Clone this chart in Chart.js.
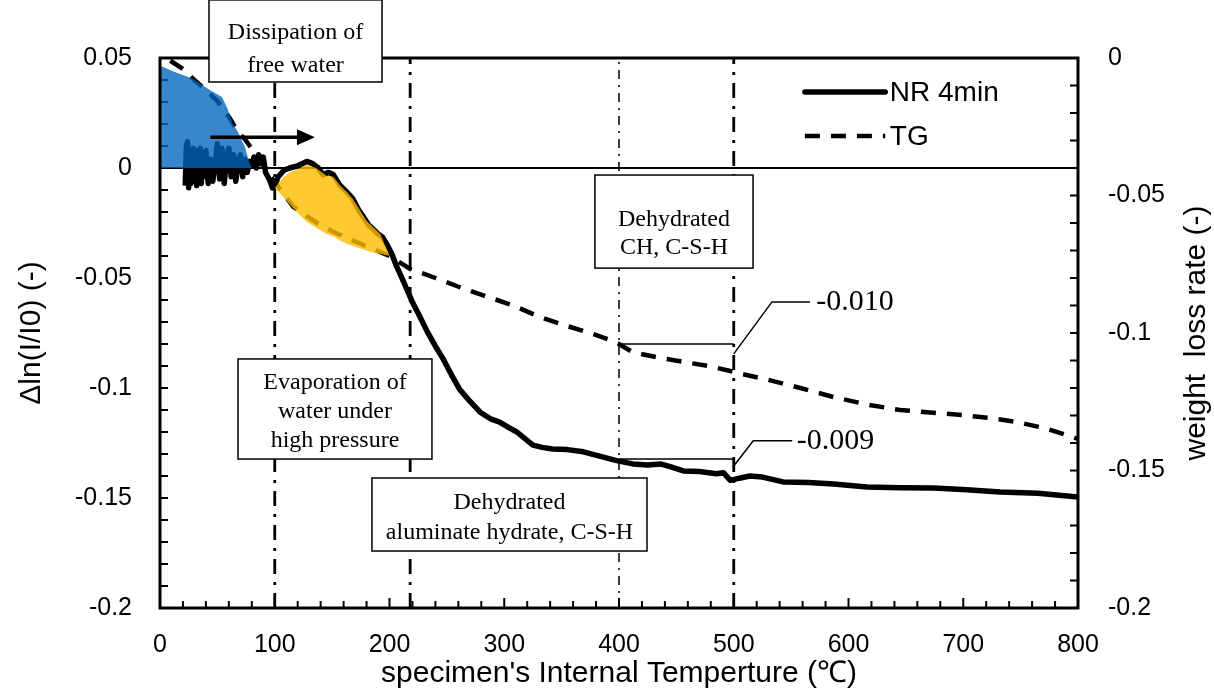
<!DOCTYPE html>
<html>
<head>
<meta charset="utf-8">
<script src="https://cdn.jsdelivr.net/npm/chart.js@4.4.1/dist/chart.umd.min.js"></script>
<style>
  body { margin: 0; background: #fff; }
</style>
</head>
<body>
<canvas id="chart" width="1214" height="695"></canvas>
<script>
// NR 4min : delta ln(I/I0), left axis
var nrTemp = [22, 23, 24, 25, 26, 27, 28, 29, 30, 31, 32, 33, 34, 35, 36, 37, 38, 40, 42, 44, 46, 48, 50, 52, 54, 56, 58, 60, 62, 64, 66, 68, 70, 72, 74, 76, 78, 80, 82, 84, 86, 88, 90, 92, 94, 96, 98, 100, 103, 108, 113, 120, 128, 133, 138, 142, 147, 151, 157, 163, 168, 173, 177, 182, 186, 190, 194, 198, 202, 206, 210, 215, 220, 225, 233, 240, 247, 254, 261, 270, 279, 288, 296, 304, 311, 318, 325, 333, 342, 355, 369, 383, 398, 412, 425, 436, 446, 456, 470, 485, 491, 497, 505, 514, 525, 543, 565, 587, 616, 645, 674, 703, 732, 765, 800];
var nrValue = [-0.008, 0.010, 0.012, -0.009, 0.004, -0.007, 0.006, 0.009, -0.006, 0.008, -0.008, 0.003, -0.005, 0.009, -0.007, 0.007, -0.004, 0.008, -0.007, 0.004, -0.006, 0.002, 0.011, -0.005, 0.009, -0.007, 0.005, 0.009, -0.004, 0.006, -0.006, 0.003, 0.006, -0.004, 0.004, -0.002, 0.003, 0.001, 0.005, 0.000, 0.006, 0.002, 0.005, -0.002, -0.004, -0.006, -0.009, -0.008, -0.004, -0.001, 0.000, 0.001, 0.003, 0.002, 0.000, -0.003, -0.002, -0.003, -0.008, -0.011, -0.014, -0.019, -0.022, -0.026, -0.028, -0.030, -0.0315, -0.035, -0.039, -0.0445, -0.049, -0.055, -0.061, -0.066, -0.0745, -0.081, -0.087, -0.094, -0.1005, -0.106, -0.111, -0.114, -0.1155, -0.118, -0.120, -0.123, -0.126, -0.127, -0.1277, -0.128, -0.129, -0.131, -0.133, -0.1345, -0.135, -0.1345, -0.136, -0.1377, -0.138, -0.139, -0.1385, -0.142, -0.141, -0.140, -0.1405, -0.1427, -0.143, -0.1436, -0.145, -0.1453, -0.1455, -0.1462, -0.1473, -0.1478, -0.1495];

// TG : weight loss rate, right axis
var tgTemp = [9, 20, 30, 39, 50, 61, 68, 74, 80, 87, 98, 107, 116, 126, 137, 150, 166, 183, 200, 218, 240, 259, 283, 308, 330, 355, 375, 395, 400, 412, 435, 456, 478, 497, 508, 530, 558, 587, 616, 645, 674, 703, 725, 747, 770, 793, 800];
var tgValue = [-0.001, -0.004, -0.008, -0.0113, -0.0156, -0.022, -0.027, -0.0295, -0.033, -0.037, -0.044, -0.049, -0.054, -0.057, -0.060, -0.063, -0.066, -0.069, -0.072, -0.0767, -0.080, -0.083, -0.0865, -0.090, -0.094, -0.0975, -0.100, -0.103, -0.104, -0.107, -0.109, -0.1105, -0.112, -0.1138, -0.115, -0.117, -0.120, -0.1233, -0.126, -0.128, -0.129, -0.130, -0.131, -0.1324, -0.1345, -0.1375, -0.1385];

// shaded regions (left axis units)
var blueTemp = [0, 2, 13, 29, 42, 54, 59, 63, 68, 74, 78, 80];
var blueValue = [0.046, 0.046, 0.0436, 0.0405, 0.0359, 0.0323, 0.0268, 0.0205, 0.0164, 0.0095, 0.0023, 0];
var yellowTemp = [100, 108, 113, 120, 128, 136, 145, 151, 157, 163, 168, 174, 180, 186, 192, 200];
var yellowTop = [-0.009, -0.004, -0.002, -0.0005, 0.0015, 0.000, -0.0035, -0.004, -0.008, -0.011, -0.014, -0.019, -0.024, -0.027, -0.030, -0.040];
var yellowBottom = [-0.009, -0.0135, -0.0165, -0.0205, -0.0245, -0.027, -0.030, -0.031, -0.033, -0.0345, -0.0355, -0.0365, -0.0375, -0.0385, -0.039, -0.040];

var markerTemps = [100, 218, 400, 500];

var xTicks = [0, 100, 200, 300, 400, 500, 600, 700, 800];
var xTickLabels = ['0', '100', '200', '300', '400', '500', '600', '700', '800'];
var leftTicks = [-0.2, -0.15, -0.1, -0.05, 0, 0.05];
var leftTickLabels = ['-0.2', '-0.15', '-0.1', '-0.05', '0', '0.05'];
var rightTicks = [-0.2, -0.15, -0.1, -0.05, 0];
var rightTickLabels = ['-0.2', '-0.15', '-0.1', '-0.05', '0'];

var SANS = '"Liberation Sans", Arial, sans-serif';
var SERIF = '"Liberation Serif", "Times New Roman", serif';

function pts(xs, ys) {
    return xs.map(function (x, i) { return { x: x, y: ys[i] }; });
}

var datasets = [
    { label: 'NR 4min', data: pts(nrTemp, nrValue), yAxisID: 'y', borderColor: '#000', borderWidth: 5.5,
      borderJoinStyle: 'round', pointRadius: 0, fill: false, order: 2 },
    { label: 'TG', data: pts(tgTemp, tgValue), yAxisID: 'y2', borderColor: '#000', borderWidth: 4.5,
      borderDash: [15, 11], pointRadius: 0, fill: false, order: 2 },
    { label: 'blue', data: pts(blueTemp, blueValue), yAxisID: 'y', borderWidth: 0, borderColor: 'rgba(0,0,0,0)',
      backgroundColor: 'rgba(0,100,190,0.78)', pointRadius: 0, fill: 'origin', order: 0 },
    { label: 'yellow', data: pts(yellowTemp, yellowTop), yAxisID: 'y', borderWidth: 0, borderColor: 'rgba(0,0,0,0)',
      backgroundColor: 'rgba(255,188,0,0.8)', pointRadius: 0, fill: '+1', order: 0 },
    { label: 'yellowBase', data: pts(yellowTemp, yellowBottom), yAxisID: 'y', borderWidth: 0, borderColor: 'rgba(0,0,0,0)',
      pointRadius: 0, fill: false, order: 1 }
];
markerTemps.forEach(function (t) {
    var thin = t === 400;
    datasets.push({ label: 'marker', data: [{ x: t, y: -0.2 }, { x: t, y: 0.05 }], yAxisID: 'y',
        borderColor: '#000', borderWidth: thin ? 1.5 : 2.8, borderDash: thin ? [9, 6, 2, 6] : [15, 8, 3, 8],
        pointRadius: 0, fill: false, order: 3 });
});

var notes = [
    { lines: ['Dissipation of', 'free water'], t0: 42.7, t1: 193.5, v0: 0.0764, v1: 0.0391, gap: 33, shift: 8 },
    { lines: ['Evaporation of', 'water under', 'high pressure'], t0: 68, t1: 237, v0: -0.0868, v1: -0.1323, gap: 29, shift: 3 },
    { lines: ['Dehydrated', 'aluminate hydrate, C-S-H'], t0: 184.7, t1: 424.4, v0: -0.1409, v1: -0.1741, gap: 30, shift: 3 },
    { lines: ['Dehydrated', 'CH, C-S-H'], t0: 379, t1: 516.8, v0: -0.0032, v1: -0.0455, gap: 28, shift: 12 }
];

function line(ctx, pts, w) {
    ctx.beginPath();
    ctx.moveTo(pts[0][0], pts[0][1]);
    for (var i = 1; i < pts.length; i++) ctx.lineTo(pts[i][0], pts[i][1]);
    ctx.lineWidth = w;
    ctx.stroke();
}

var decor = {
    id: 'decor',
    beforeDatasetsDraw: function (chart) {
        var ctx = chart.ctx, ca = chart.chartArea;
        var xs = chart.scales.x, ys = chart.scales.y, y2 = chart.scales.y2;
        ctx.save();
        ctx.strokeStyle = '#000';
        for (var t = 20; t < 800; t += 20) {
            var x = xs.getPixelForValue(t);
            line(ctx, [[x, ca.bottom], [x, ca.bottom - (t % 100 === 0 ? 10 : 7)]], 2);
        }
        for (var i = -19; i < 5; i++) {
            var y = ys.getPixelForValue(i / 100);
            line(ctx, [[ca.left, y], [ca.left + 8, y]], 2);
        }
        for (var j = -19; j < 0; j++) {
            var yy = y2.getPixelForValue(j / 100);
            line(ctx, [[ca.right, yy], [ca.right - 8, yy]], 2);
        }
        ctx.restore();
    },
    afterDatasetsDraw: function (chart) {
        var ctx = chart.ctx, ca = chart.chartArea;
        var xs = chart.scales.x, ys = chart.scales.y, y2 = chart.scales.y2;
        var px = function (t) { return xs.getPixelForValue(t); };
        var py = function (v) { return ys.getPixelForValue(v); };
        var py2 = function (v) { return y2.getPixelForValue(v); };
        ctx.save();
        ctx.strokeStyle = '#000';
        ctx.fillStyle = '#000';

        // frame
        ctx.lineWidth = 3;
        ctx.strokeRect(ca.left, ca.top, ca.right - ca.left, ca.bottom - ca.top);

        // note boxes
        notes.forEach(function (n) {
            var x0 = px(n.t0), x1 = px(n.t1), y0 = py(n.v0), y1 = py(n.v1);
            ctx.fillStyle = '#fff';
            ctx.fillRect(x0, y0, x1 - x0, y1 - y0);
            ctx.lineWidth = 1.5;
            ctx.strokeRect(x0, y0, x1 - x0, y1 - y0);
            ctx.fillStyle = '#000';
            ctx.font = '24px ' + SERIF;
            ctx.textAlign = 'center';
            ctx.textBaseline = 'middle';
            var cy = (y0 + y1) / 2 + n.shift - (n.lines.length - 1) * n.gap / 2;
            n.lines.forEach(function (s, k) { ctx.fillText(s, (x0 + x1) / 2, cy + k * n.gap); });
        });

        // arrow
        var ay = py(0.014), ax0 = px(44), ax1 = px(135);
        line(ctx, [[ax0, ay], [ax1 - 14, ay]], 3.5);
        ctx.beginPath();
        ctx.moveTo(ax1, ay);
        ctx.lineTo(ax1 - 18, ay - 8);
        ctx.lineTo(ax1 - 18, ay + 8);
        ctx.closePath();
        ctx.fill();

        // leaders for the 400-500 differences
        line(ctx, [[px(400), py2(-0.104)], [px(500), py2(-0.104)]], 1.5);
        line(ctx, [[px(500), py2(-0.1076)], [px(533.3), py2(-0.0887)], [px(566.4), py2(-0.0887)]], 1.5);
        line(ctx, [[px(400), py(-0.1323)], [px(500), py(-0.1323)]], 1.5);
        line(ctx, [[px(499.3), py(-0.1359)], [px(517), py(-0.124)], [px(551), py(-0.124)]], 1.5);
        ctx.font = '30px ' + SERIF;
        ctx.textAlign = 'left';
        ctx.textBaseline = 'middle';
        ctx.fillText('-0.010', px(572), py2(-0.0887));
        ctx.fillText('-0.009', px(555), py(-0.124));

        // legend
        var legendRows = [chart.data.datasets[0], chart.data.datasets[1]];
        var rowV = [0.0345, 0.0145];
        ctx.font = '28px ' + SANS;
        legendRows.forEach(function (ds, k) {
            var y = py(rowV[k]);
            ctx.setLineDash(ds.borderDash || []);
            ctx.lineCap = ds.borderDash ? 'butt' : 'round';
            line(ctx, [[px(562), y], [px(632), y]], ds.borderWidth);
            ctx.setLineDash([]);
            ctx.fillText(ds.label, px(636), y + 1);
        });

        // right axis title, reading upward
        ctx.translate(chart.width - 17, (ca.top + ca.bottom) / 2);
        ctx.rotate(-Math.PI / 2);
        ctx.textAlign = 'center';
        ctx.font = '30px ' + SANS;
        ctx.fillText('weight  loss rate (-)', 0, 0);
        ctx.restore();
    }
};

function fixTicks(values) {
    return function (scale) {
        scale.ticks = values.map(function (v) { return { value: v }; });
    };
}

Chart.defaults.font.family = SANS;
Chart.defaults.color = '#000';

new Chart(document.getElementById('chart'), {
    type: 'line',
    data: { datasets: datasets },
    options: {
        responsive: false,
        animation: false,
        layout: { padding: { top: 58, left: 0, right: 0, bottom: 0 } },
        plugins: { legend: { display: false }, tooltip: { enabled: false } },
        scales: {
            x: {
                type: 'linear', position: 'bottom', min: 0, max: 800,
                afterBuildTicks: fixTicks(xTicks),
                afterFit: function (s) { s.height = 87; },
                grid: { display: false },
                border: { display: false },
                ticks: { font: { size: 25 }, padding: 14, maxRotation: 0,
                    callback: function (v) { return xTickLabels[xTicks.indexOf(v)]; } },
                title: { display: true, text: "specimen's Internal Temperture (\u2103)", font: { size: 30 },
                    padding: { top: 0, bottom: 3 } }
            },
            y: {
                type: 'linear', position: 'left', min: -0.2, max: 0.05,
                afterBuildTicks: fixTicks(leftTicks),
                afterFit: function (s) { s.width = 160; },
                grid: { drawTicks: false, lineWidth: 2,
                    color: function (c) { return c.tick && c.tick.value === 0 ? '#000' : 'rgba(0,0,0,0)'; } },
                border: { display: false },
                ticks: { font: { size: 25 }, padding: 28,
                    callback: function (v) { return leftTickLabels[leftTicks.indexOf(v)]; } },
                title: { display: true, text: '\u0394ln(I/I0) (-)', font: { size: 30 }, padding: { top: 14, bottom: 0 } }
            },
            y2: {
                type: 'linear', position: 'right', min: -0.2, max: 0,
                afterBuildTicks: fixTicks(rightTicks),
                afterFit: function (s) { s.width = 136; },
                grid: { display: false },
                border: { display: false },
                ticks: { font: { size: 25 }, padding: 22,
                    callback: function (v) { return rightTickLabels[rightTicks.indexOf(v)]; } }
            }
        }
    },
    plugins: [decor]
});
</script>
</body>
</html>
